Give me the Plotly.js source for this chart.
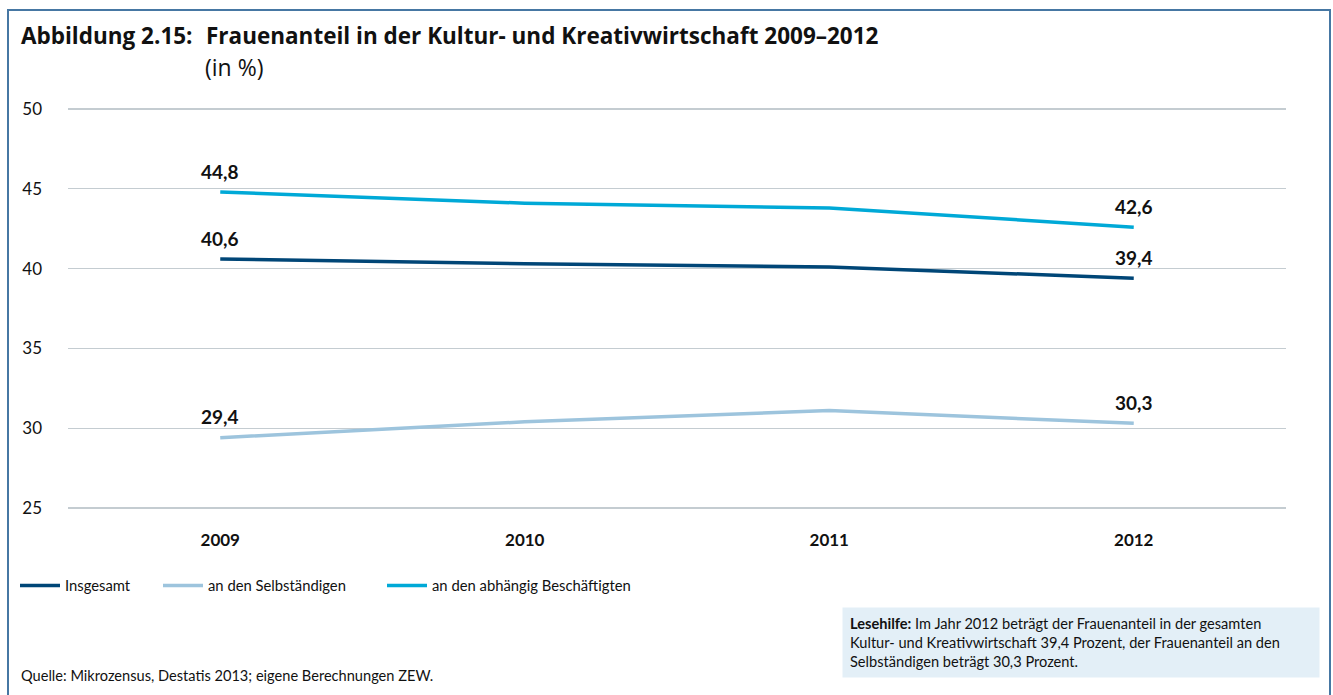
<!DOCTYPE html>
<html>
<head>
<meta charset="utf-8">
<script src="https://cdn.plot.ly/plotly-3.0.1.min.js"></script>
<style>
html,body{margin:0;padding:0;background:#fff;}
#chart{width:1333px;height:695px;}
</style>
</head>
<body>
<div id="chart"></div>
<script>
// ---- data ----
const years = ["2009", "2010", "2011", "2012"];
const seriesNames = ["Insgesamt", "an den Selbständigen", "an den abhängig Beschäftigten"];
const insgesamt = [40.6, 40.3, 40.1, 39.4];
const selbstaendige = [29.4, 30.4, 31.1, 30.3];
const abhaengig = [44.8, 44.1, 43.8, 42.6];
const yTicks = [25, 30, 35, 40, 45, 50];
const titleMain = "Abbildung 2.15:";
const titleText = "Frauenanteil in der Kultur- und Kreativwirtschaft 2009–2012";
const subtitle = "(in %)";
const sourceText = "Quelle: Mikrozensus, Destatis 2013; eigene Berechnungen ZEW.";
const readingHelpLabel = "Lesehilfe:";
const readingHelpText = "Im Jahr 2012 beträgt der Frauenanteil in der gesamten<br>Kultur- und Kreativwirtschaft 39,4 Prozent, der Frauenanteil an den<br>Selbständigen beträgt 30,3 Prozent.";

const colors = ["#004677", "#9dc4dd", "#00a9d7"];
const FONT = "Lato, 'Noto Sans', sans-serif";
const TFONT = "'Open Sans', 'Noto Sans', sans-serif";

const W = 1333, H = 695;
const M = {l: 68, r: 47, t: 107, b: 185};
const PW = W - M.l - M.r, PH = H - M.t - M.b;
const px = x => (x - M.l) / PW;            // pixel -> paper x
const py = y => 1 - (y - M.t) / PH;        // pixel -> paper y

const seriesVals = [insgesamt, selbstaendige, abhaengig];
const legendIds = ["legend", "legend2", "legend3"];

const traces = seriesVals.map((vals, i) => ({
  type: "scatter",
  mode: "lines",
  x: years,
  y: vals,
  name: seriesNames[i],
  line: {color: colors[i], width: 3.5},
  legend: legendIds[i],
  hoverinfo: "skip"
}));

const fmt = v => v.toFixed(1).replace(".", ",");
const annotations = [];
seriesVals.forEach(vals => {
  [0, vals.length - 1].forEach(j => {
    annotations.push({
      x: j, y: vals[j], xref: "x", yref: "y",   // category index of years[j]
      text: "<b>" + fmt(vals[j]) + "</b>",
      showarrow: false, yshift: 21,
      font: {family: FONT, size: 19, color: "#111"}
    });
  });
});

annotations.push(
  {xref: "paper", yref: "paper", x: px(19), y: py(35), xanchor: "left", yanchor: "middle",
   text: "<b>" + titleMain + "</b>", showarrow: false,
   font: {family: TFONT, size: 22.5, color: "#111"}},
  {xref: "paper", yref: "paper", x: px(204), y: py(35), xanchor: "left", yanchor: "middle",
   text: "<b>" + titleText + "</b>", showarrow: false,
   font: {family: TFONT, size: 22.5, color: "#111"}},
  {xref: "paper", yref: "paper", x: px(203), y: py(67), xanchor: "left", yanchor: "middle",
   text: subtitle, showarrow: false,
   font: {family: TFONT, size: 23, color: "#111"}},
  {xref: "paper", yref: "paper", x: px(19), y: py(675), xanchor: "left", yanchor: "middle",
   text: sourceText, showarrow: false,
   font: {family: FONT, size: 14.6, color: "#111"}},
  {xref: "paper", yref: "paper", x: px(842), y: py(607), xanchor: "left", yanchor: "top",
   text: "<b>" + readingHelpLabel + "</b> " + readingHelpText, showarrow: false,
   align: "left", width: 462, borderpad: 7, bgcolor: "#e3eff7",
   font: {family: FONT, size: 14.6, color: "#111"}}
);

const legendBase = {
  orientation: "h", xanchor: "left", yanchor: "middle",
  y: py(586), bgcolor: "rgba(0,0,0,0)", borderwidth: 0,
  font: {family: FONT, size: 14.8, color: "#111"},
  itemwidth: 40, itemclick: false, itemdoubleclick: false
};

const layout = {
  width: W, height: H,
  margin: M,
  paper_bgcolor: "#fff", plot_bgcolor: "#fff",
  font: {family: FONT, color: "#111"},
  showlegend: true,
  legend: Object.assign({}, legendBase, {x: px(15)}),
  legend2: Object.assign({}, legendBase, {x: px(158)}),
  legend3: Object.assign({}, legendBase, {x: px(382)}),
  xaxis: {
    type: "category",
    range: [-0.5, 3.5],
    showgrid: false, zeroline: false, showline: false,
    ticks: "", ticklabelstandoff: 18,
    tickfont: {family: FONT, size: 17, color: "#111", weight: "bold"},
    fixedrange: true
  },
  yaxis: {
    range: [24.87, 50.13],
    tickvals: yTicks,
    showgrid: true, gridcolor: "#c4ccd1", gridwidth: 1.2,
    zeroline: false, showline: false,
    ticks: "", ticklabelstandoff: 25,
    tickfont: {family: FONT, size: 17, color: "#111"},
    fixedrange: true
  },
  shapes: [{
    type: "rect", xref: "paper", yref: "paper",
    x0: px(8), x1: px(1330), y0: py(10), y1: py(720),
    line: {color: "#4677a3", width: 2}, fillcolor: "rgba(0,0,0,0)", layer: "below"
  }],
  annotations: annotations
};

Plotly.newPlot("chart", traces, layout, {displayModeBar: false, staticPlot: true});
</script>
</body>
</html>
